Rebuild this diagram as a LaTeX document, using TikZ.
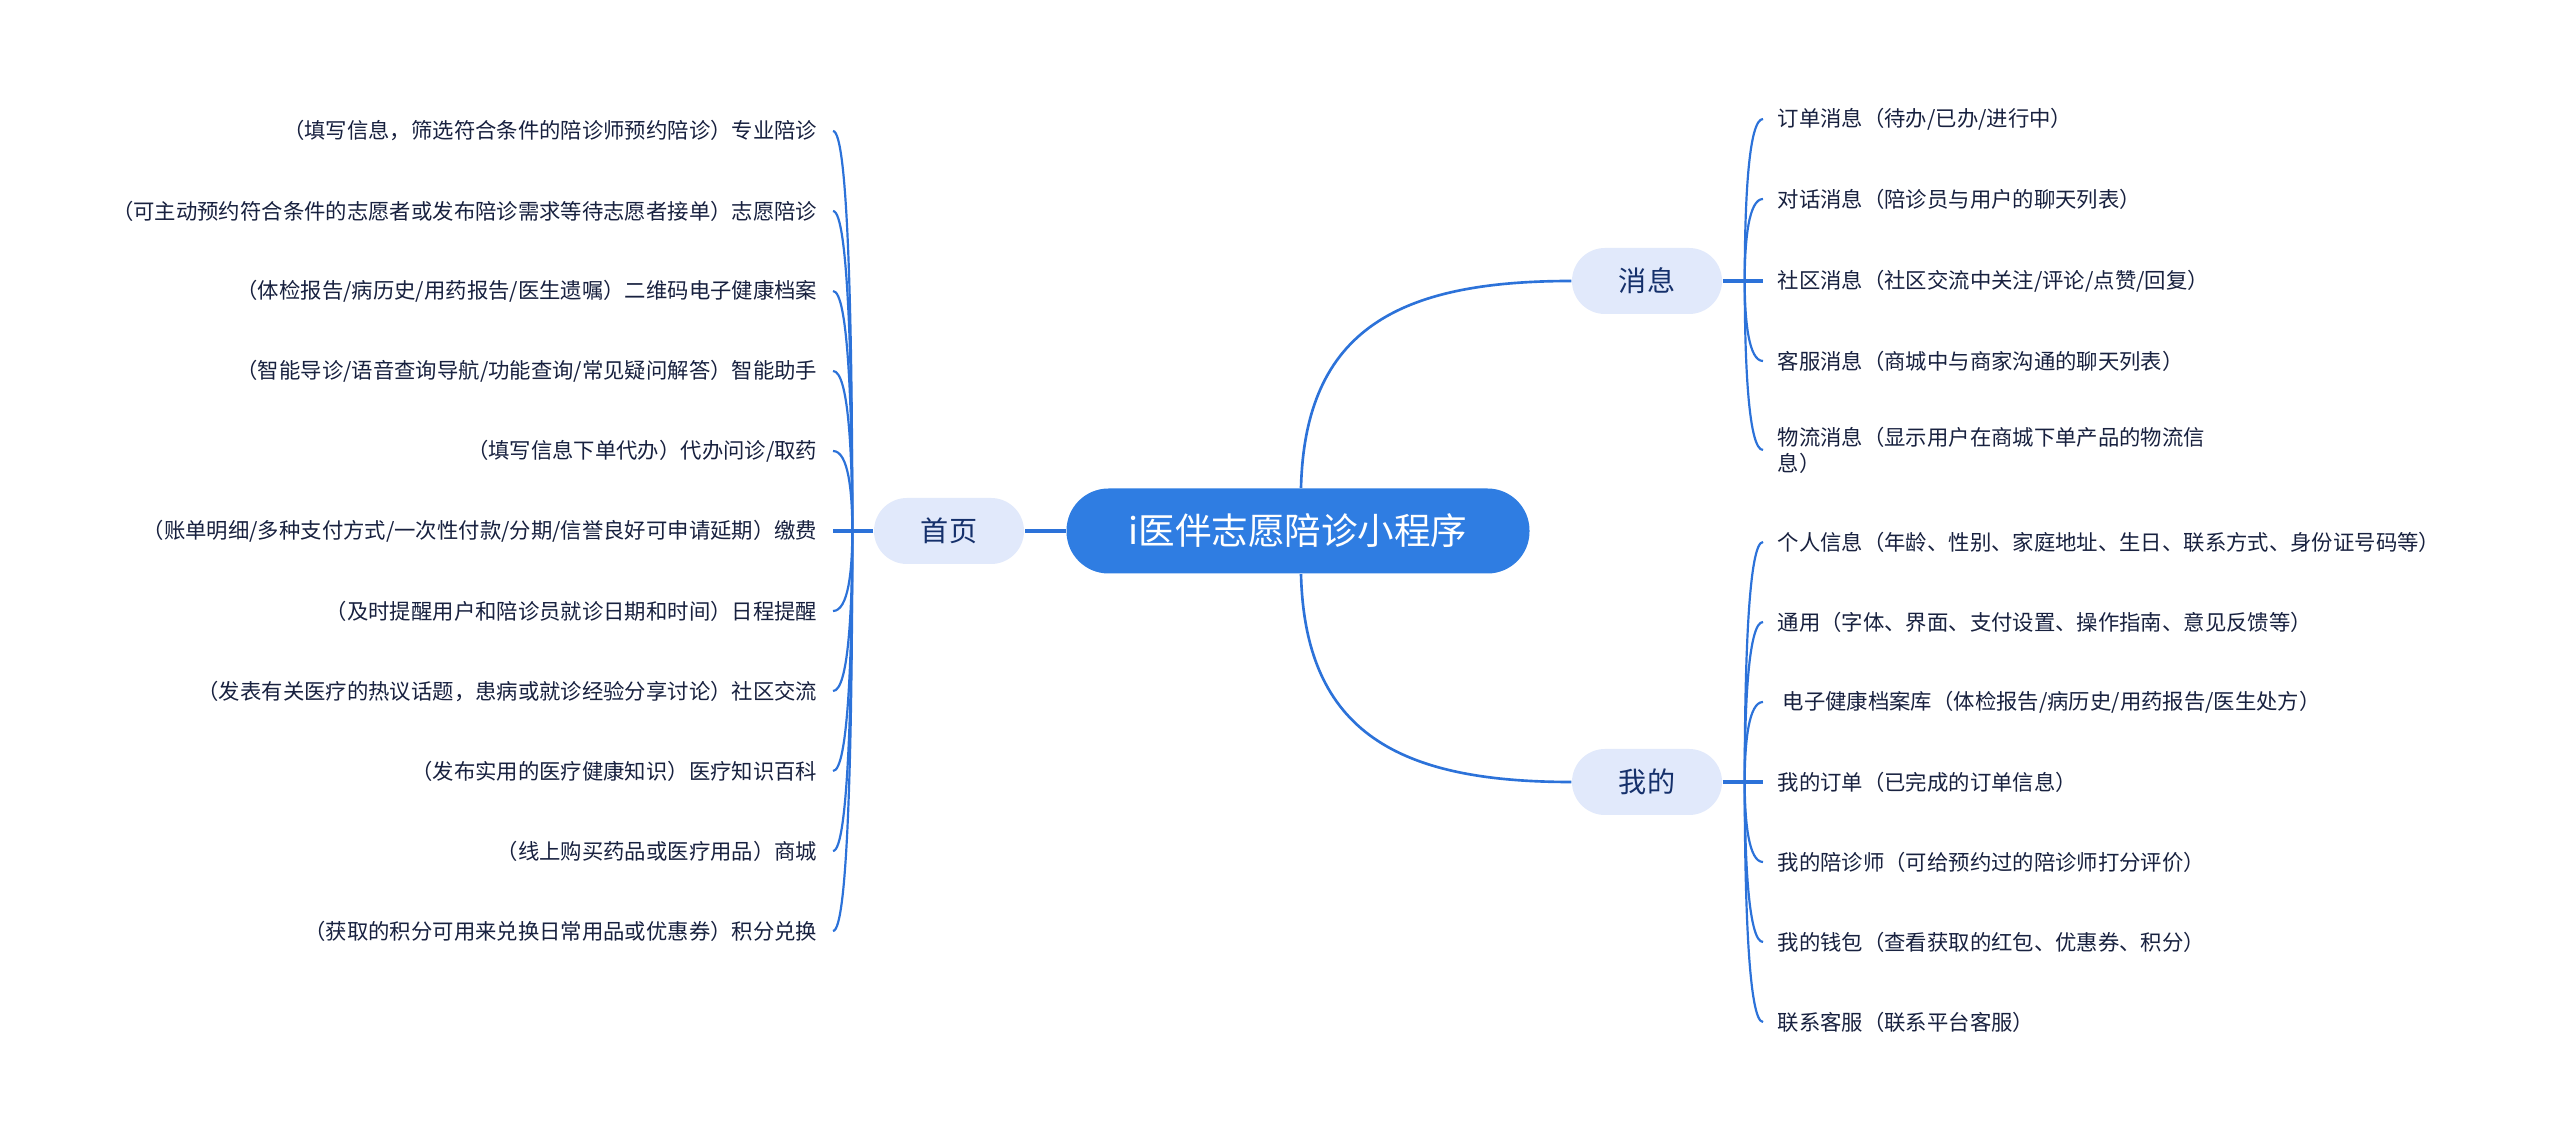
\documentclass[tikz,border=0pt]{standalone}
\usepackage{fontspec}
\setmainfont{Noto Sans CJK SC}
\usetikzlibrary{calc}
\definecolor{lineblue}{HTML}{2C72D9}
\definecolor{rootblue}{HTML}{2F7DE2}
\definecolor{pale}{HTML}{E1E9FB}
\definecolor{navy}{HTML}{15306B}
\definecolor{ink}{HTML}{18213F}

\begin{document}
\begin{tikzpicture}[
    every node/.style={text=ink},
    rootbox/.style={fill=rootblue, text=white, rounded corners=0.42cm,
      minimum width=4.63cm, minimum height=0.85cm,
      font=\fontsize{10.4}{12}\selectfont},
    topic/.style={fill=pale, text=navy, rounded corners=0.33cm,
      minimum width=1.5cm, minimum height=0.66cm,
      font=\fontsize{8}{9.6}\selectfont},
    leafL/.style={anchor=east, inner xsep=0.15cm, inner ysep=0.04cm,
      font=\fontsize{6.08}{7.4}\selectfont},
    leafR/.style={anchor=west, inner xsep=0.14cm, inner ysep=0.04cm,
      font=\fontsize{6.08}{7.4}\selectfont, align=left},
    trunk/.style={lineblue, line width=0.75pt},
    stub/.style={lineblue, line width=0.95pt},
    branch/.style={lineblue, line width=0.62pt},
    twig/.style={to path={.. controls ($(\tikztostart)!0.5!(\tikztostart |- \tikztotarget)$)
      and ($(\tikztostart |- \tikztotarget)+(#1,0)$) .. (\tikztotarget)}},
    twig/.default=0,
  ]

  % Canvas
  \fill[white] (0,0) rectangle (25.6,11.37);
  \useasboundingbox (0,0) rectangle (25.6,11.37);

  % === Main topics ===
  \node[rootbox] (root) at (12.98,6.06) {i医伴志愿陪诊小程序};
  \node[topic] (home) at (9.49,6.06) {首页};
  \node[topic] (msg) at (16.47,8.56) {消息};
  \node[topic] (mine) at (16.47,3.55) {我的};

  \draw[stub] (root.west) -- (home.east);
  \draw[trunk] ([xshift=0.03cm]root.north) .. controls +(0.04,1.59) and +(-1.72,0) .. (msg.west);
  \draw[trunk] ([xshift=0.03cm]root.south) .. controls +(0.04,-1.59) and +(-1.72,0) .. (mine.west);

  % === 首页 (left side) ===
  \node[leafL] (h0) at (8.33,10.06) {（填写信息，筛选符合条件的陪诊师预约陪诊）专业陪诊};
  \node[leafL] (h1) at (8.33,9.26) {（可主动预约符合条件的志愿者或发布陪诊需求等待志愿者接单）志愿陪诊};
  \node[leafL] (h2) at (8.33,8.46) {（体检报告/病历史/用药报告/医生遗嘱）二维码电子健康档案};
  \node[leafL] (h3) at (8.33,7.66) {（智能导诊/语音查询导航/功能查询/常见疑问解答）智能助手};
  \node[leafL] (h4) at (8.33,6.86) {（填写信息下单代办）代办问诊/取药};
  \node[leafL] (h5) at (8.33,6.06) {（账单明细/多种支付方式/一次性付款/分期/信誉良好可申请延期）缴费\hspace{0.2cm}};
  \node[leafL] (h6) at (8.33,5.26) {（及时提醒用户和陪诊员就诊日期和时间）日程提醒};
  \node[leafL] (h7) at (8.33,4.46) {（发表有关医疗的热议话题，患病或就诊经验分享讨论）社区交流};
  \node[leafL] (h8) at (8.33,3.66) {（发布实用的医疗健康知识）医疗知识百科};
  \node[leafL] (h9) at (8.33,2.86) {（线上购买药品或医疗用品）商城};
  \node[leafL] (h10) at (8.33,2.06) {（获取的积分可用来兑换日常用品或优惠券）积分兑换\hspace{0.2cm}};

  \coordinate (hs) at ([xshift=-0.21cm]home.west);
  \draw[stub] (home.west) -- (hs);
  \draw[branch] (hs) to[twig=-0.04] (h0.east);
  \draw[branch] (hs) to[twig=-0.04] (h1.east);
  \draw[branch] (hs) to[twig=-0.04] (h2.east);
  \draw[branch] (hs) to[twig=-0.04] (h3.east);
  \draw[branch] (hs) to[twig=-0.04] (h4.east);
  \draw[stub] (hs) -- (h5.east);
  \draw[branch] (hs) to[twig=-0.04] (h6.east);
  \draw[branch] (hs) to[twig=-0.04] (h7.east);
  \draw[branch] (hs) to[twig=-0.04] (h8.east);
  \draw[branch] (hs) to[twig=-0.04] (h9.east);
  \draw[branch] (hs) to[twig=-0.04] (h10.east);

  % === 消息 (upper right) ===
  \node[leafR] (m0) at (17.63,10.18) {订单消息（待办/已办/进行中）};
  \node[leafR] (m1) at (17.63,9.38) {对话消息（陪诊员与用户的聊天列表）};
  \node[leafR] (m2) at (17.63,8.56) {社区消息（社区交流中关注/评论/点赞/回复）};
  \node[leafR] (m3) at (17.63,7.76) {客服消息（商城中与商家沟通的聊天列表）};
  \node[leafR] (m4) at (17.63,6.87) {物流消息（显示用户在商城下单产品的物流信\\息）};

  \coordinate (ms) at ([xshift=0.22cm]msg.east);
  \draw[stub] (msg.east) -- (ms);
  \draw[branch] (ms) to[twig=0.04] (m0.west);
  \draw[branch] (ms) to[twig=0.04] (m1.west);
  \draw[stub] (ms) -- (m2.west);
  \draw[branch] (ms) to[twig=0.04] (m3.west);
  \draw[branch] (ms) to[twig=0.04] (m4.west);

  % === 我的 (lower right) ===
  \node[leafR] (w0) at (17.63,5.95) {个人信息（年龄、性别、家庭地址、生日、联系方式、身份证号码等）};
  \node[leafR] (w1) at (17.63,5.15) {通用（字体、界面、支付设置、操作指南、意见反馈等）};
  \node[leafR] (w2) at (17.63,4.35) {\hspace{0.05cm}电子健康档案库（体检报告/病历史/用药报告/医生处方）};
  \node[leafR] (w3) at (17.63,3.55) {我的订单（已完成的订单信息）};
  \node[leafR] (w4) at (17.63,2.75) {我的陪诊师（可给预约过的陪诊师打分评价）};
  \node[leafR] (w5) at (17.63,1.95) {我的钱包（查看获取的红包、优惠券、积分）};
  \node[leafR] (w6) at (17.63,1.15) {联系客服（联系平台客服）};

  \coordinate (ws) at ([xshift=0.22cm]mine.east);
  \draw[stub] (mine.east) -- (ws);
  \draw[branch] (ws) to[twig=0.04] (w0.west);
  \draw[branch] (ws) to[twig=0.04] (w1.west);
  \draw[branch] (ws) to[twig=0.04] (w2.west);
  \draw[stub] (ws) -- (w3.west);
  \draw[branch] (ws) to[twig=0.04] (w4.west);
  \draw[branch] (ws) to[twig=0.04] (w5.west);
  \draw[branch] (ws) to[twig=0.04] (w6.west);

\end{tikzpicture}
\end{document}
